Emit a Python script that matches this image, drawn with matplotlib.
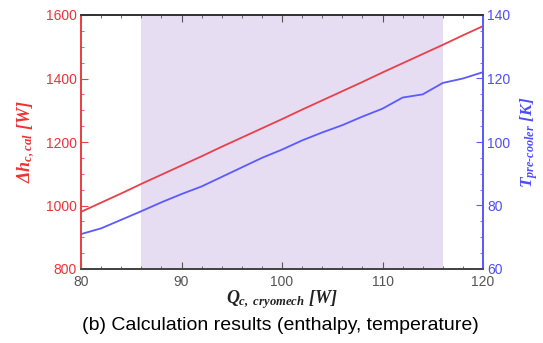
import matplotlib
matplotlib.use("Agg")
import matplotlib.pyplot as plt
from matplotlib.ticker import MultipleLocator

# Data
Q = [80, 82, 84, 86, 88, 90, 92, 94, 96, 98, 100, 102, 104, 106, 108, 110, 112, 114, 116, 118, 120]
dh = [980, 1009, 1038, 1068, 1097, 1126, 1155, 1185, 1214, 1243, 1272, 1302, 1331, 1360, 1389, 1419, 1448, 1477, 1506, 1536, 1565]
T = [71.0, 72.8, 75.5, 78.2, 81.0, 83.6, 86.0, 89.0, 92.0, 95.0, 97.6, 100.5, 103.0, 105.3, 108.0, 110.5, 114.0, 115.0, 118.6, 120.0, 122.0]
shade_span = (86, 116)
caption = "(b) Calculation results (enthalpy, temperature)"

plt.rcParams['mathtext.fontset'] = 'custom'
plt.rcParams['mathtext.rm'] = 'Liberation Serif:bold:italic'
plt.rcParams['mathtext.it'] = 'Liberation Serif:bold:italic'
plt.rcParams['mathtext.bf'] = 'Liberation Serif:bold:italic'
plt.rcParams['font.family'] = ['Liberation Sans', 'DejaVu Sans']

red = '#e8404a'
blue = '#5a5aff'
redt = '#ee3333'
bluet = '#4d4dff'

fig = plt.figure(figsize=(5.43, 3.43), dpi=100)
ax = fig.add_axes([81/543, 1-269/343, (483-81)/543, (269-15)/343])
ax2 = ax.twinx()

ax.axvspan(*shade_span, color='#e6ddf2', zorder=0, lw=0)
ax.plot(Q, dh, color=red, lw=1.3, zorder=3)
ax2.plot(Q, T, color=blue, lw=1.3, zorder=3)

ax.set_xlim(80, 120)
ax.set_ylim(800, 1600)
ax2.set_ylim(60, 140)

ax.xaxis.set_major_locator(MultipleLocator(10))
ax.xaxis.set_minor_locator(MultipleLocator(2))
ax.yaxis.set_major_locator(MultipleLocator(200))
ax.yaxis.set_minor_locator(MultipleLocator(50))
ax2.yaxis.set_major_locator(MultipleLocator(20))
ax2.yaxis.set_minor_locator(MultipleLocator(5))

for a in (ax, ax2):
    for s in a.spines.values():
        s.set_linewidth(1.3)
ax.spines['left'].set_color(red)
ax2.spines['left'].set_color(red)
ax.spines['right'].set_color(blue)
ax2.spines['right'].set_color(blue)
ax.spines['top'].set_color('#333333')
ax.spines['bottom'].set_color('#444444')
ax2.spines['top'].set_color('#333333')
ax2.spines['bottom'].set_color('#444444')

ax.tick_params(axis='x', which='both', direction='in', top=True, colors='#555555', labelcolor='#555555', labelsize=10, pad=4)
ax.tick_params(axis='x', which='major', length=5)
ax.tick_params(axis='x', which='minor', length=2.5)
ax.tick_params(axis='y', which='both', direction='in', colors=red, labelcolor=redt, labelsize=10, pad=3)
ax.tick_params(axis='y', which='major', length=5)
ax.tick_params(axis='y', which='minor', length=2.5)
ax2.tick_params(axis='y', which='both', direction='in', colors=blue, labelcolor=bluet, labelsize=10, pad=3)
ax2.tick_params(axis='y', which='major', length=5)
ax2.tick_params(axis='y', which='minor', length=2.5)

ax.set_xlabel(r'$Q_{c,\ cryomech}\ [W]$', fontsize=13, color='#222222', labelpad=0)
ax.set_ylabel(r'$\Delta h_{c,cal}\ [W]$', fontsize=13, color=redt, labelpad=6)
ax2.set_ylabel(r'$T_{pre\text{-}cooler}\ [K]$', fontsize=12.5, color=bluet, labelpad=6)

fig.text(280/543, 1-325/343, caption, ha='center', va='center', fontsize=14, color='black')

fig.savefig('out.png', dpi=100)
